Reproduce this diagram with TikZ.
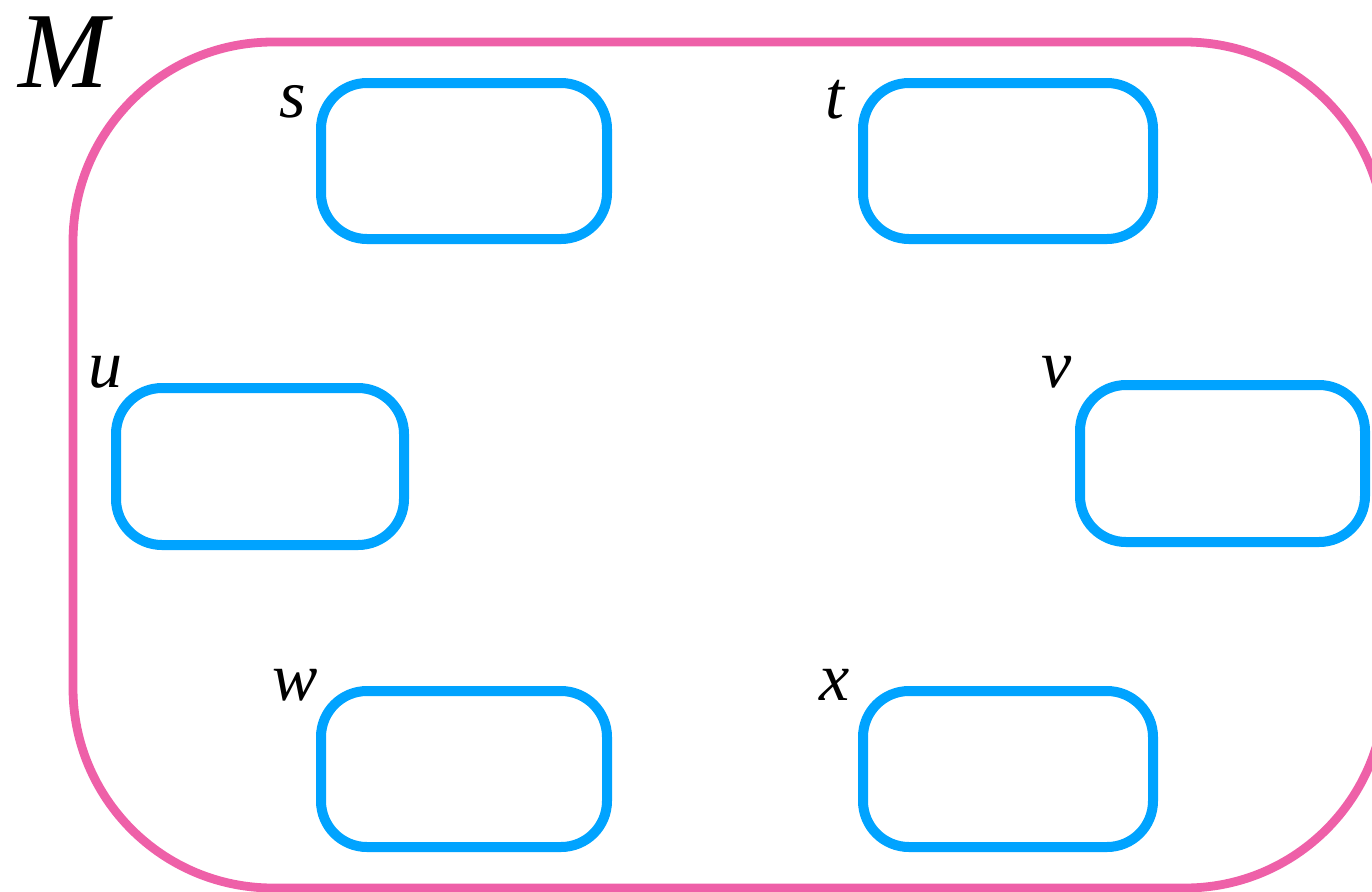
\documentclass[tikz,border=0pt]{standalone}
\usepackage{fontspec}
\setmainfont{Liberation Serif}
\begin{document}
\begin{tikzpicture}[x=0.5pt,y=-0.5pt,
  outer/.style={draw=pinkc,line width=4.4pt,rounded corners=100pt,inner sep=0pt},
  inbox/.style={draw=bluec,line width=5pt,rounded corners=23pt,inner sep=0pt},
  lab/.style={inner sep=0pt,font=\fontsize{34}{38}\selectfont\itshape},
  biglab/.style={inner sep=0pt,font=\fontsize{54}{60}\selectfont\itshape}]
\definecolor{pinkc}{RGB}{238,96,168}
\definecolor{bluec}{RGB}{0,163,255}
\useasboundingbox (0,0) rectangle (1372,891);
\node[outer,minimum width=656pt,minimum height=423pt] (M) at (729,465) {};
\node[inbox,minimum width=143pt,minimum height=78pt] (s) at (464,161) {};
\node[inbox,minimum width=145pt,minimum height=78pt] (t) at (1008,161) {};
\node[inbox,minimum width=144pt,minimum height=78.5pt] (u) at (260,466.5) {};
\node[inbox,minimum width=142.5pt,minimum height=78.5pt] (v) at (1222.5,463.5) {};
\node[inbox,minimum width=143pt,minimum height=78pt] (w) at (464,769) {};
\node[inbox,minimum width=145pt,minimum height=78pt] (x) at (1008,769) {};
\node[biglab] (Ml) at (63,52) {M};
\node[lab] (sl) at (293,102) {s};
\node[lab] (tl) at (835,100) {t};
\node[lab] (ul) at (105,372) {u};
\node[lab] (vl) at (1057,372) {v};
\node[lab] (wl) at (295,685) {w};
\node[lab] (xl) at (835,685) {x};
\end{tikzpicture}
\end{document}
